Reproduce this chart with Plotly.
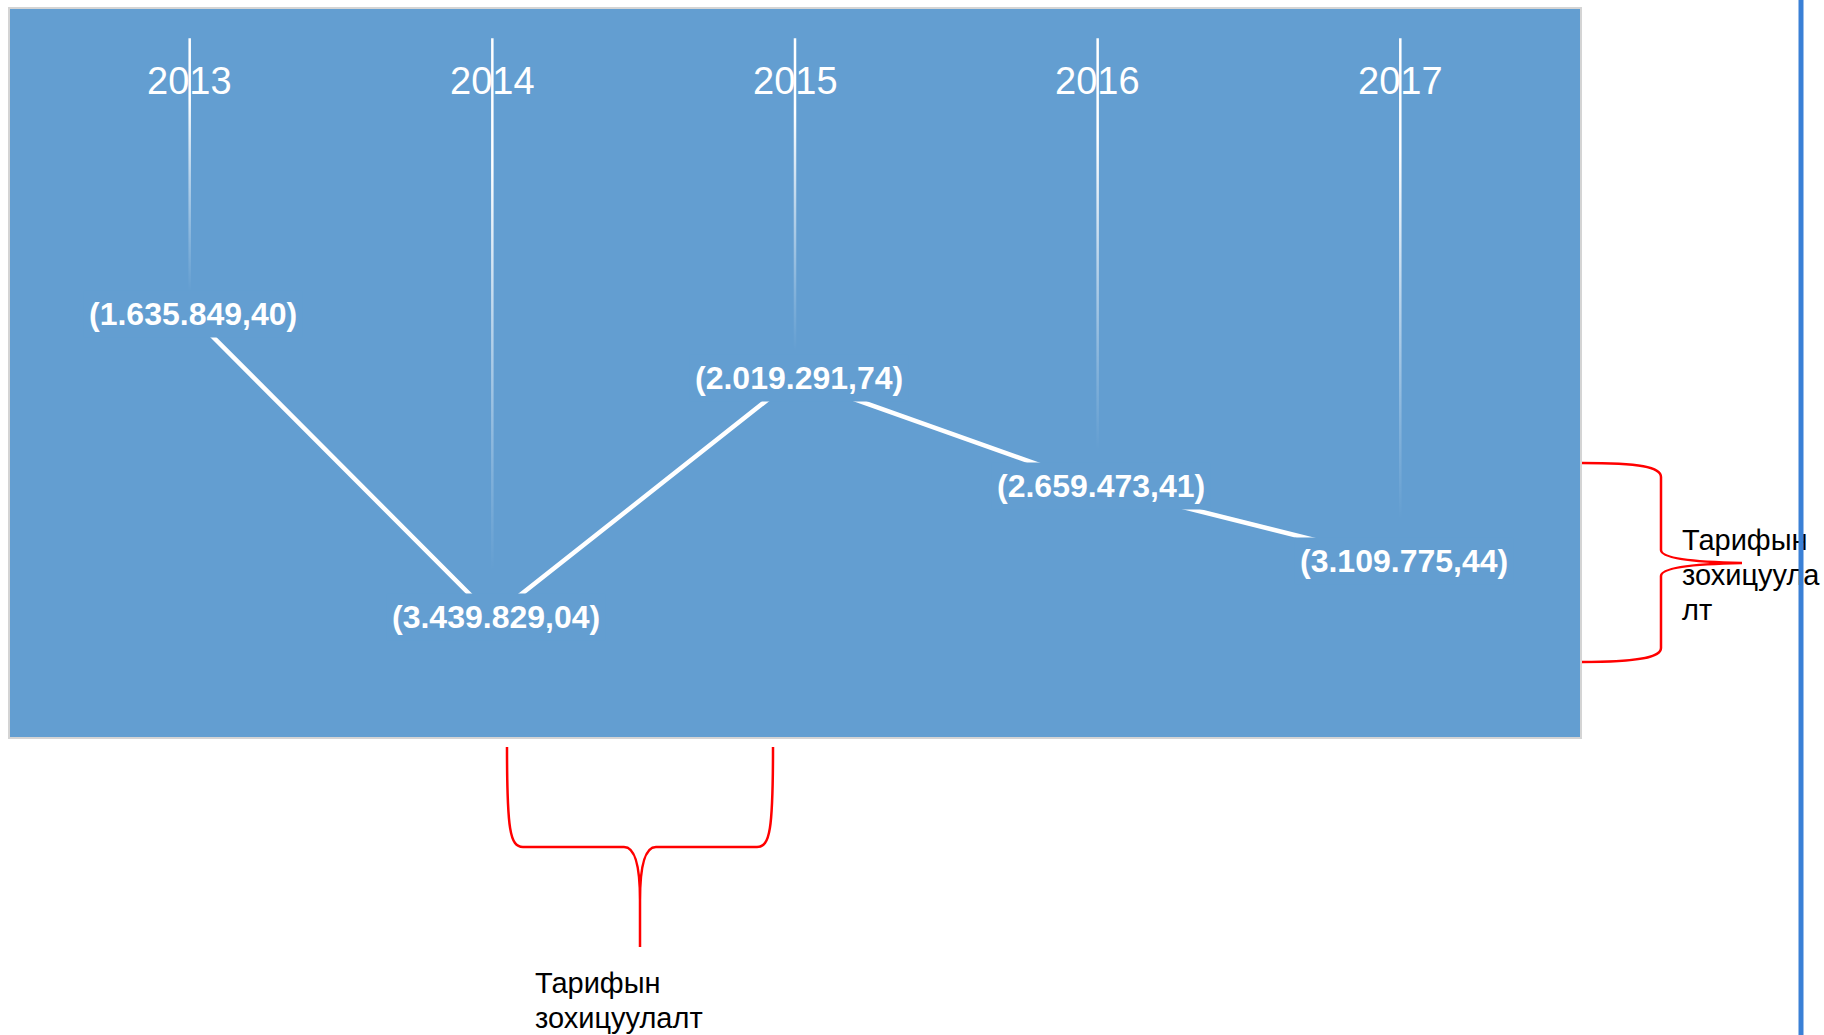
import plotly.graph_objects as go

# ---------------- data ----------------
years = ["2013", "2014", "2015", "2016", "2017"]
values = [1635849.40, 3439829.04, 2019291.74, 2659473.41, 3109775.44]
brace_text_bottom = ["Тарифын", "зохицуулалт"]
brace_text_right = ["Тарифын", "зохицуула", "лт"]

# ---------------- styling / layout helpers ----------------
W, H = 1824, 1035
PL, PR, PT, PB = 9, 1581, 8, 738           # plot-area pixel box
PANEL = "#639ED1"
FONT = "Liberation Sans, Arial, sans-serif"


def xp(px):
    return (px - PL) / (PR - PL)


def yp(py):
    return (PB - py) / (PB - PT)


def path(cmds):
    out = []
    for c in cmds:
        if isinstance(c, str):
            out.append(c)
        else:
            out.append(f"{xp(c[0]):.5f},{yp(c[1]):.5f}")
    return " ".join(out)


def fmt(v):
    s = f"{v:,.2f}"
    return "(" + s.replace(",", "X").replace(".", ",").replace("X", ".") + ")"


xs = list(range(len(years)))
fig = go.Figure()

# drop lines from the top (value 0) to each point, fading out towards the point
hw = 1.25 / ((PR - PL) / 5.194)
fade = [[0, "rgba(255,255,255,0)"], [0.08, "rgba(255,255,255,0)"],
        [0.25, "rgba(255,255,255,0.2)"], [0.5, "rgba(255,255,255,0.55)"],
        [0.78, "rgba(255,255,255,1)"], [1, "rgba(255,255,255,1)"]]
for i, v in zip(xs, values):
    fig.add_trace(go.Scatter(
        x=[i - hw, i + hw, i + hw, i - hw, i - hw],
        y=[0, 0, v, v, 0],
        mode="lines", line=dict(width=0), fill="toself",
        fillgradient=dict(type="vertical", colorscale=fade),
        hoverinfo="skip"))

# main line
fig.add_trace(go.Scatter(x=xs, y=values, mode="lines",
                         line=dict(color="white", width=4.5), hoverinfo="skip"))

annotations = []
for i, (yr, v) in enumerate(zip(years, values)):
    annotations.append(dict(x=i, y=yp(81), xref="x", yref="paper", text=yr,
                            xanchor="center", yanchor="middle",
                            showarrow=False, font=dict(family=FONT, size=38, color="white")))
    annotations.append(dict(x=i, y=v, xref="x", yref="y", text=fmt(v), showarrow=False,
                            xanchor="center", yanchor="middle", xshift=3.5,
                            font=dict(family=FONT, size=32, color="white", weight="bold"),
                            bgcolor=PANEL, borderpad=5))

for txt, cy in zip(brace_text_right, [540, 575, 610]):
    annotations.append(dict(x=xp(1680), y=yp(cy), xref="paper", yref="paper", text=txt,
                            xanchor="left", yanchor="middle", showarrow=False,
                            font=dict(family=FONT, size=29, color="black")))
for txt, cy in zip(brace_text_bottom, [983, 1018]):
    annotations.append(dict(x=xp(533), y=yp(cy), xref="paper", yref="paper", text=txt,
                            xanchor="left", yanchor="middle", showarrow=False,
                            font=dict(family=FONT, size=29, color="black")))

# blue vertical rule on the right (drawn above text)
annotations.append(dict(x=xp(1801), y=yp(H / 2), xref="paper", yref="paper", text=" ",
                        xanchor="center", yanchor="middle",
                        width=4, height=H + 20, bgcolor="#3A80D6", borderpad=0,
                        showarrow=False, font=dict(size=1)))

shapes = [
    dict(type="rect", xref="paper", yref="paper", x0=0, x1=1, y0=0, y1=1,
         line=dict(color="#D4D4D4", width=2)),
    # right brace
    dict(type="path", xref="paper", yref="paper", line=dict(color="#FF0000", width=2.5),
         path=path(["M", (1582, 463), "C", (1640, 463), (1661, 467), (1661, 477),
                    "L", (1661, 550), "C", (1661, 558), (1690, 562), (1742, 563),
                    "C", (1690, 564), (1661, 568), (1661, 576),
                    "L", (1661, 648), "C", (1661, 657), (1640, 662), (1582, 662)])),
    # bottom brace
    dict(type="path", xref="paper", yref="paper", line=dict(color="#FF0000", width=2.5),
         path=path(["M", (507, 747), "C", (507, 830), (510, 847), (523, 847),
                    "L", (624, 847), "C", (634, 847), (640, 862), (640, 900),
                    "L", (640, 947), "M", (640, 900), "C", (640, 862), (646, 847), (656, 847),
                    "L", (757, 847), "C", (770, 847), (773, 830), (773, 747)])),
]

fig.update_layout(
    width=W, height=H,
    margin=dict(l=PL, r=W - PR, t=PT, b=H - PB, pad=0),
    paper_bgcolor="white", plot_bgcolor=PANEL, showlegend=False,
    xaxis=dict(range=[-0.597, 4.597], visible=False),
    yaxis=dict(range=[4.159e6, -0.180e6], visible=False),
    annotations=annotations, shapes=shapes,
)

fig.write_html("out.html", config={"displayModeBar": False},
               post_script="document.body.style.margin='0';document.body.style.overflow='hidden';")
